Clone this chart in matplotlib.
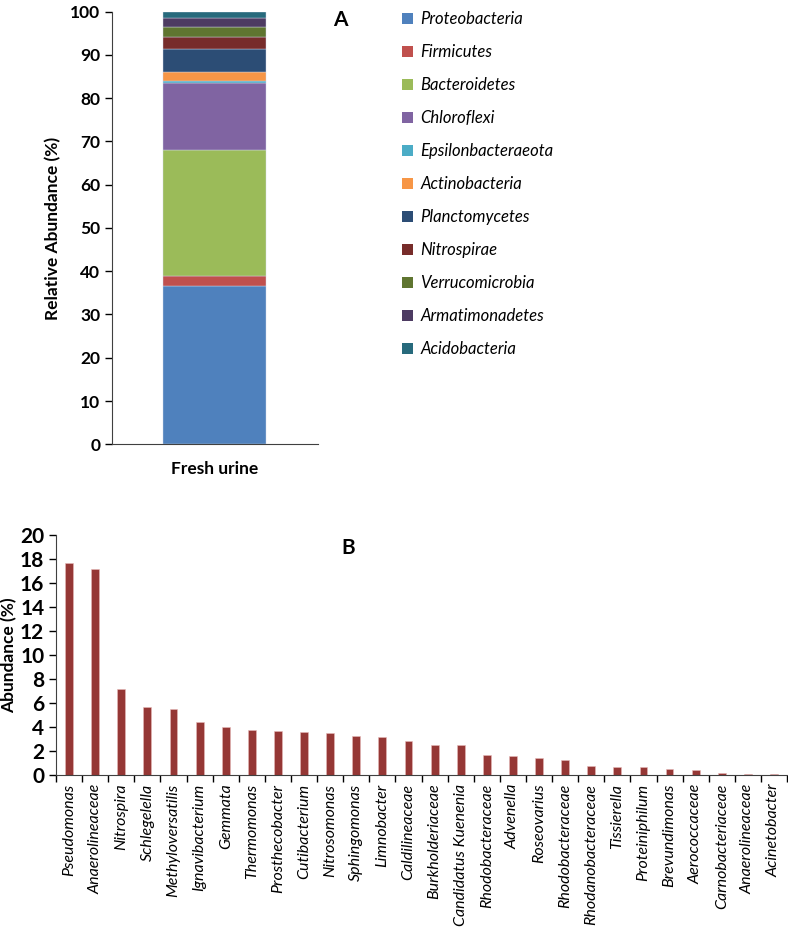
import matplotlib
matplotlib.use("Agg")
import matplotlib.pyplot as plt
from matplotlib.patches import Patch

plt.rcParams['font.family'] = ['Lato', 'DejaVu Sans']

# Panel A: phylum composition of fresh urine (%)
phyla = ['Proteobacteria', 'Firmicutes', 'Bacteroidetes', 'Chloroflexi',
         'Epsilonbacteraeota', 'Actinobacteria', 'Planctomycetes', 'Nitrospirae',
         'Verrucomicrobia', 'Armatimonadetes', 'Acidobacteria']
phylum_values = [36.7, 2.3, 29.1, 15.5, 0.3, 2.2, 5.3, 2.8, 2.3, 2.1, 1.4]
phylum_colors = ['#4F81BD', '#C0504D', '#9BBB59', '#8064A2', '#4BACC6', '#F79646',
                 '#2C4D75', '#772C2A', '#5F7530', '#4D3B62', '#276A7C']
sample = ['Fresh urine']

# Panel B: genus abundance (%)
genera = ['Pseudomonas', 'Anaerolineaceae', 'Nitrospira', 'Schlegelella',
          'Methyloversatilis', 'Ignavibacterium', 'Gemmata', 'Thermomonas',
          'Prosthecobacter', 'Cutibacterium', 'Nitrosomonas', 'Sphingomonas',
          'Limnobacter', 'Caldilineaceae', 'Burkholderiaceae', 'Candidatus Kuenenia',
          'Rhodobacteraceae', 'Advenella', 'Roseovarius', 'Rhodobacteraceae',
          'Rhodanobacteraceae', 'Tissierella', 'Proteiniphilum', 'Brevundimonas',
          'Aerococcaceae', 'Carnobacteriaceae', 'Anaerolineaceae', 'Acinetobacter']
genus_values = [17.67, 17.14, 7.18, 5.66, 5.55, 4.47, 3.99, 3.74, 3.66, 3.61, 3.52,
                3.27, 3.16, 2.86, 2.52, 2.50, 1.69, 1.64, 1.44, 1.30, 0.80, 0.69,
                0.67, 0.53, 0.44, 0.17, 0.14, 0.11]

fig = plt.figure(figsize=(7.88, 9.32), dpi=100)

# ---- panel A ----
axA = fig.add_axes([0.1421, 0.5233, 0.2614, 0.4642])
bottom = 0
for name, val, col in zip(phyla, phylum_values, phylum_colors):
    axA.bar(0, val, width=0.5, bottom=bottom, color=col, label=name,
            edgecolor='#D0D8E8', linewidth=0.3)
    bottom += val
axA.set_xlim(-0.5, 0.5)
axA.set_ylim(0, 100)
axA.set_yticks(range(0, 101, 10))
axA.set_xticks([0])
axA.set_xticklabels(sample, fontsize=12.5, fontweight='bold')
axA.tick_params(axis='x', length=0, pad=12)
axA.tick_params(axis='y', labelsize=12.5, length=5, width=1, direction='out')
for lab in axA.get_yticklabels():
    lab.set_fontweight('bold')
axA.spines['top'].set_visible(False)
axA.spines['right'].set_visible(False)
axA.spines['left'].set_color('#404040')
axA.spines['bottom'].set_color('#404040')
axA.set_ylabel('Relative Abundance (%)', fontsize=12.5, fontweight='bold', labelpad=6)
fig.text(340 / 788, 1 - 20 / 932, 'A', fontsize=15, fontweight='bold',
         ha='center', va='center')

handles = [Patch(facecolor=c, edgecolor='none') for c in phylum_colors]
leg = fig.legend(handles, phyla, loc='upper left',
                 bbox_to_anchor=(387 / 788, 1 + 4 / 932),
                 frameon=False, handlelength=0.65, handleheight=0.65,
                 handletextpad=0.45, labelspacing=1.02,
                 prop={'size': 12, 'style': 'italic'})

# ---- panel B ----
axB = fig.add_axes([0.0711, 0.1681, 0.9277, 0.2578])
x = list(range(len(genera)))
axB.bar(x, genus_values, width=0.3, color='#953735', edgecolor='#E6B9B8', linewidth=0.4)
axB.set_xlim(-0.5, len(genera) - 0.5)
axB.set_ylim(0, 20)
axB.set_yticks(range(0, 21, 2))
axB.set_xticks(x)
axB.set_xticklabels(genera, rotation=90, fontsize=11.5, style='italic')
axB.set_xticks([i + 0.5 for i in range(-1, len(genera))], minor=True)
axB.tick_params(axis='x', which='major', length=0, pad=6)
axB.tick_params(axis='x', which='minor', length=5, width=1, direction='out')
axB.tick_params(axis='y', labelsize=15, length=5, width=1, direction='out')
for lab in axB.get_yticklabels():
    lab.set_fontweight('bold')
axB.spines['top'].set_visible(False)
axB.spines['right'].set_visible(False)
axB.spines['left'].set_color('#404040')
axB.spines['bottom'].set_color('#404040')
axB.set_ylabel('Abundance (%)', fontsize=12.5, fontweight='bold', labelpad=2)
fig.text(348 / 788, 1 - 548 / 932, 'B', fontsize=15, fontweight='bold',
         ha='center', va='center')

fig.savefig('out.png', dpi=100)
